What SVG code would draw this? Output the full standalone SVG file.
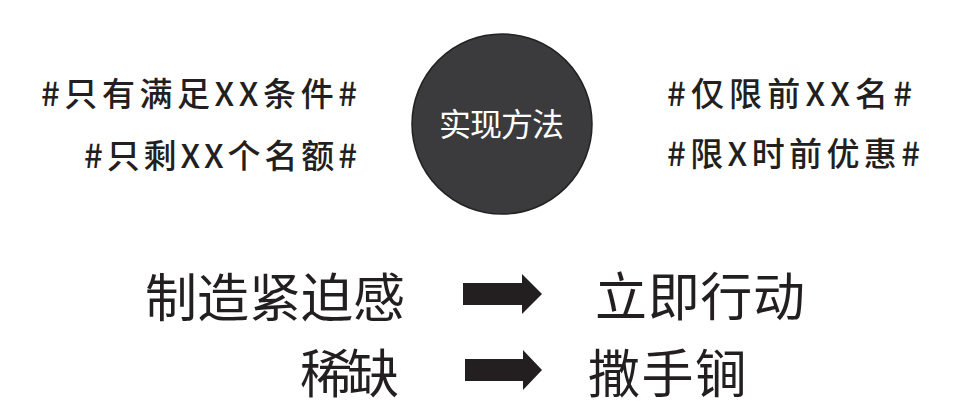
<svg xmlns="http://www.w3.org/2000/svg" width="976" height="416" viewBox="0 0 976 416">
<style>
.t{font-family:"Noto Sans CJK SC","Noto Sans",sans-serif;fill:#231f20;}
.s{font-size:33px;font-weight:500;}
.b{font-size:52px;font-weight:400;}
.c{font-family:"Noto Sans CJK SC","Noto Sans",sans-serif;font-size:32px;fill:#ffffff;}
.arrow{fill:#231f20;}
</style>
<rect width="976" height="416" fill="#ffffff"/>
<g id="center">
<circle cx="502" cy="124" r="90" fill="#3b3b3d" stroke="#222222" stroke-width="1.5"/>
<text class="c" x="439" y="136" textLength="125" lengthAdjust="spacing">实现方法</text>
</g>
<g id="left1"><text class="t s" x="41" y="106" textLength="316" lengthAdjust="spacing">#只有满足XX条件#</text></g>
<g id="left2"><text class="t s" x="84" y="168" textLength="273" lengthAdjust="spacing">#只剩XX个名额#</text></g>
<g id="right1"><text class="t s" x="667" y="106" textLength="245" lengthAdjust="spacing">#仅限前XX名#</text></g>
<g id="right2"><text class="t s" x="667" y="166" textLength="253" lengthAdjust="spacing">#限X时前优惠#</text></g>
<g id="urgency"><text class="t b" x="145" y="317" textLength="260" lengthAdjust="spacing">制造紧迫感</text></g>
<g id="action"><text class="t b" x="595" y="316" textLength="210" lengthAdjust="spacing">立即行动</text></g>
<g id="scarcity"><text class="t b" x="300" y="393" textLength="99" lengthAdjust="spacing">稀缺</text></g>
<g id="trump"><text class="t b" x="588" y="393" textLength="159" lengthAdjust="spacing">撒手锏</text></g>
<g id="connectors">
<polygon class="arrow" points="463,283 522,283 522,274 542,294 522,314 522,305 463,305"/>
<polygon class="arrow" points="465,359 523,359 523,350 542,370 523,390 523,381 465,381"/>
</g>
</svg>
